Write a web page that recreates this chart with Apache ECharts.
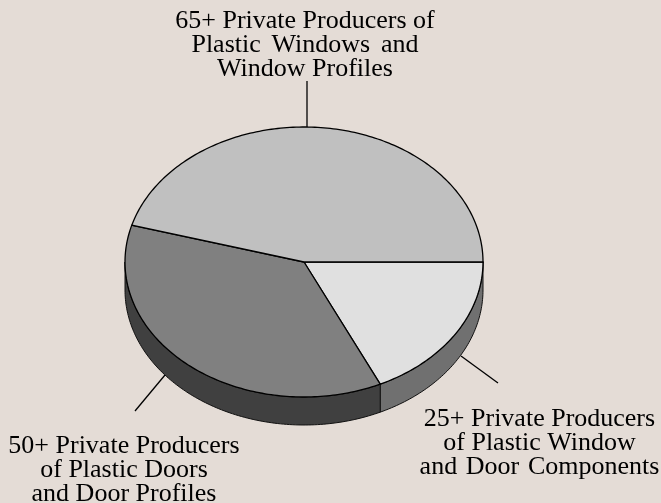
<!DOCTYPE html>
<html><head><meta charset="utf-8">
<style>html,body{margin:0;padding:0;background:#e4dcd6}#c{width:661px;height:503px}</style>
<script src="https://cdn.jsdelivr.net/npm/echarts@6/dist/echarts.min.js"></script>
</head><body><div id="c"></div>
<script>
var categories = ['25+ Private Producers of Plastic Window and Door Components','50+ Private Producers of Plastic Doors and Door Profiles','65+ Private Producers of Plastic Windows and Window Profiles'];
var shares = [18, 36.4, 45.6];
var labelTexts = [
  ['65+ Private Producers of','Plastic Windows and','Window Profiles'],
  ['25+ Private Producers','of Plastic Window','and Door Components'],
  ['50+ Private Producers','of Plastic Doors','and Door Profiles']
];
var topColors = ['#e0e0e0','#808080','#c0c0c0'];
var sideColors = ['#707070','#404040','#c0c0c0'];
var labelLayout = [
  {x:305,y:[27.5,51.5,75.5],gap:[0,2,0]},
  {x:539.5,y:[426,449.5,474],gap:[0,0,1]},
  {x:124,y:[452.5,476.5,500.5],gap:[0,0,0]}
];
var leaders = [[[307,81],[307,128]],[[461,356],[498,383]],[[165,375],[135,411]]];
var cx=304, cy=262, rx=179, ry=135, depth=28;
var total = shares.reduce(function(a,b){return a+b;},0);
function pt(deg,dy){var a=deg*Math.PI/180;return [cx+rx*Math.cos(a),cy+ry*Math.sin(a)+(dy||0)];}
function arc(a,b,dy){var p=[],n=Math.max(2,Math.ceil((b-a)));for(var i=0;i<=n;i++)p.push(pt(a+(b-a)*i/n,dy));return p;}
function renderSlice(params,api){
  var i=params.dataIndex, start=0;
  for(var k=0;k<i;k++)start+=shares[k];
  var a0=start/total*360, a1=(start+api.value(1))/total*360;
  var kids=[];
  var sEnd=Math.min(a1,180);
  if(a0<180){
    var sp=arc(a0,sEnd,0).concat(arc(a0,sEnd,depth).reverse());
    kids.push({type:'polygon',shape:{points:sp},style:{fill:sideColors[i],stroke:'#111',lineWidth:1}});
  }
  var tp=[[cx,cy]].concat(arc(a0,a1,0));
  kids.push({type:'polygon',shape:{points:tp},style:{fill:topColors[i],stroke:'#000',lineWidth:1.3}});
  return {type:'group',children:kids};
}
var graphics=[];
leaders.forEach(function(l){graphics.push({type:'line',shape:{x1:l[0][0],y1:l[0][1],x2:l[1][0],y2:l[1][1]},style:{stroke:'#000',lineWidth:1.3}});});
labelTexts.forEach(function(lines,n){var L=labelLayout[n];lines.forEach(function(s,j){
  var sp=' '+new Array(L.gap[j]+1).join('\u200a');
  graphics.push({type:'text',x:L.x,y:L.y[j]-6.5,style:{text:s.replace(/ /g,sp),fill:'#000',font:'26px "Liberation Serif"',textAlign:'center',textVerticalAlign:'middle'}});
});});
var chart=echarts.init(document.getElementById('c'));
chart.setOption({
  backgroundColor:'#e4dcd6',animation:false,
  series:[{type:'custom',coordinateSystem:'none',renderItem:renderSlice,
    data:categories.map(function(c,i){return {name:c,value:[i,shares[i]]};})}],
  graphic:graphics
});
</script></body></html>
